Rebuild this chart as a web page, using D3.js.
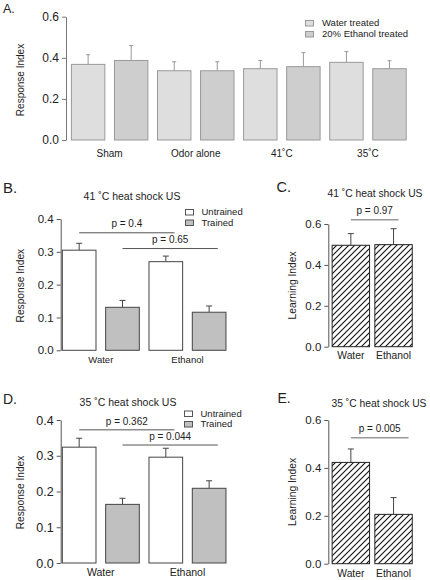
<!DOCTYPE html>
<html><head><meta charset="utf-8">
<script src="https://cdn.jsdelivr.net/npm/d3@7"></script>
<style>
html,body{margin:0;padding:0;background:#fff;}
svg{display:block;font-family:"Liberation Sans",Arial,Helvetica,sans-serif;}
</style></head>
<body>
<svg id="chart" width="430" height="580"></svg>
<script>
// ---------- DATA ----------
// Panel A
const groupsA = ["Sham", "Odor alone", "41˚C", "35˚C"];
const seriesA = ["Water treated", "20% Ethanol treated"];
const waterA = [0.368, 0.337, 0.347, 0.378];
const waterErrA = [0.047, 0.044, 0.040, 0.052];
const ethanolA = [0.387, 0.337, 0.357, 0.347];
const ethanolErrA = [0.073, 0.044, 0.068, 0.039];
const ticksA = [0, 0.2, 0.4, 0.6];

// Panels B / D
const treatments = ["Water", "Ethanol"];
const trainSeries = ["Untrained", "Trained"];
const untrainedB = [0.305, 0.270];
const untrainedErrB = [0.021, 0.017];
const trainedB = [0.131, 0.116];
const trainedErrB = [0.021, 0.019];
const pLabelsB = ["p = 0.4", "p = 0.65"];
const pHeightsB = [0.358, 0.310];

const untrainedD = [0.324, 0.296];
const untrainedErrD = [0.025, 0.025];
const trainedD = [0.164, 0.209];
const trainedErrD = [0.017, 0.021];
const pLabelsD = ["p = 0.362", "p = 0.044"];
const pHeightsD = [0.3725, 0.330];
const ticksBD = [0, 0.1, 0.2, 0.3, 0.4];

// Panels C / E
const learningC = [0.496, 0.499];
const learningErrC = [0.057, 0.078];
const pLabelC = "p = 0.97";
const pHeightC = 0.621;
const learningE = [0.423, 0.206];
const learningErrE = [0.056, 0.070];
const pLabelE = "p = 0.005";
const pHeightE = 0.526;
const ticksCE = [0, 0.2, 0.4, 0.6];

const titleC = "41 ˚C heat shock US";
const titleE = "35 ˚C heat shock US";

// ---------- DRAW ----------
const svg = d3.select("#chart");
const defs = svg.append("defs");
defs.append("pattern").attr("id", "hatch").attr("patternUnits", "userSpaceOnUse")
  .attr("width", 6).attr("height", 6)
  .append("path").attr("d", "M-1,1 l2,-2 M0,6 l6,-6 M5,7 l2,-2")
  .attr("stroke", "#111").attr("stroke-width", 1.1);

const TXT = "#222";

function txt(x, y, s, size, anchor, opts = {}) {
  const t = svg.append("text").attr("x", x).attr("y", y).text(s)
    .attr("font-size", size).attr("fill", opts.fill || TXT)
    .attr("text-anchor", anchor || "start");
  if (opts.rotate) t.attr("transform", `rotate(-90,${x},${y})`);
  return t;
}

function yAxis(y, x, ticks, fontSize, color) {
  const ax = d3.axisLeft(y).tickValues(ticks).tickFormat(d3.format(".1f"))
    .tickSize(4).tickSizeOuter(0).tickPadding(3);
  const g = svg.append("g").attr("transform", `translate(${x},0)`).call(ax);
  g.select(".domain").attr("stroke", color);
  g.selectAll(".tick line").attr("stroke", color);
  g.selectAll(".tick text").attr("font-size", fontSize).attr("fill", TXT)
    .attr("font-family", "Liberation Sans, Arial, sans-serif");
  return g;
}

function errBar(x, yTop, yErr, cap, color) {
  svg.append("line").attr("x1", x).attr("x2", x).attr("y1", yTop).attr("y2", yErr)
    .attr("stroke", color).attr("stroke-width", 1);
  svg.append("line").attr("x1", x - cap).attr("x2", x + cap).attr("y1", yErr).attr("y2", yErr)
    .attr("stroke", color).attr("stroke-width", 1);
}

// ===== Panel A =====
(function () {
  const y = d3.scaleLinear().domain([0, 0.6]).range([140, 16.7]);
  const x0 = d3.scaleBand().domain(groupsA).range([66.6, 411]);
  const x1 = d3.scaleBand().domain(seriesA).range([0, x0.bandwidth()])
    .paddingInner(0.2).paddingOuter(0.1);
  const fills = { "Water treated": "#dedede", "20% Ethanol treated": "#cecece" };
  const vals = [waterA, ethanolA], errs = [waterErrA, ethanolErrA];
  groupsA.forEach((g, i) => {
    seriesA.forEach((s, j) => {
      const bx = x0(g) + x1(s), v = vals[j][i], e = errs[j][i];
      errBar(bx + x1.bandwidth() / 2, y(v), y(v + e), 2, "#999");
      svg.append("rect").attr("x", bx + 0.5).attr("y", y(v))
        .attr("width", x1.bandwidth() - 1).attr("height", y(0) - y(v))
        .attr("fill", fills[s]).attr("stroke", "#9a9a9a").attr("stroke-width", 1);
    });
    txt(x0(g) + x0.bandwidth() / 2, 157, g, 10, "middle");
  });
  yAxis(y, 66, ticksA, 12, "#777");
  txt(24, 80, "Response Index", 10, "middle", { rotate: true });
  txt(3, 13, "A.", 12.5, "start");
  seriesA.forEach((s, j) => {
    svg.append("rect").attr("x", 305.5).attr("y", 20.5 + j * 11).attr("width", 8).attr("height", 5.5)
      .attr("fill", fills[s]).attr("stroke", "#9a9a9a");
    txt(322, 26 + j * 11, s, 9.5, "start");
  });
})();

// ===== Panels B / D =====
function panelBD(opt) {
  const y = d3.scaleLinear().domain([0, 0.4]).range([opt.y0, opt.y1]);
  const x0 = d3.scaleBand().domain(treatments).range([57.5, 230.8]);
  const x1 = d3.scaleBand().domain(trainSeries).range([0, x0.bandwidth()])
    .paddingInner(0.2).paddingOuter(0.1);
  const fills = { "Untrained": "#ffffff", "Trained": "#c0c0c0" };
  const vals = [opt.untr, opt.tr], errs = [opt.untrErr, opt.trErr];
  treatments.forEach((t, i) => {
    trainSeries.forEach((s, j) => {
      const bx = x0(t) + x1(s), v = vals[j][i], e = errs[j][i];
      errBar(bx + x1.bandwidth() / 2, y(v), y(v + e), 3, "#444");
      svg.append("rect").attr("x", bx + 0.5).attr("y", y(v))
        .attr("width", x1.bandwidth() - 1).attr("height", y(0) - y(v))
        .attr("fill", fills[s]).attr("stroke", "#444").attr("stroke-width", 1);
    });
    txt(x0(t) + x0.bandwidth() / 2, opt.xLabY, t, opt.xLabSize, "middle");
  });
  // significance lines: Untrained Water vs Untrained Ethanol, Trained Water vs Trained Ethanol
  trainSeries.forEach((s, j) => {
    const xa = x0("Water") + x1(s) + x1.bandwidth() / 2;
    const xb = x0("Ethanol") + x1(s) + x1.bandwidth() * 0.75;
    const yy = y(opt.pH[j]);
    svg.append("line").attr("x1", xa).attr("x2", xb).attr("y1", yy).attr("y2", yy)
      .attr("stroke", "#555").attr("stroke-width", 1);
    txt((xa + xb) / 2, yy - 5.3, opt.pL[j], 10, "middle");
  });
  yAxis(y, 60.7, ticksBD, opt.tickSize, "#555");
  txt(24, (opt.y0 + opt.y1) / 2 + 1, "Response Index", 10.2, "middle", { rotate: true });
  txt(3, opt.letterY, opt.letter, opt.letterSize, "start");
  txt(opt.titleX, opt.titleY, opt.title, 10.5, "middle");
  trainSeries.forEach((s, j) => {
    svg.append("rect").attr("x", opt.legX + 0.5).attr("y", opt.legY + j * 10.5 + 0.5)
      .attr("width", 8).attr("height", 5.5)
      .attr("fill", fills[s]).attr("stroke", "#555");
    txt(opt.legX + 16.5, opt.legY + 6 + j * 10.5, s, 9.5, "start");
  });
}
panelBD({ y0: 350.3, y1: 219, untr: untrainedB, untrErr: untrainedErrB, tr: trainedB, trErr: trainedErrB,
  pL: pLabelsB, pH: pHeightsB, xLabY: 362.7, xLabSize: 9.5, tickSize: 11.5,
  letter: "B.", letterY: 192.5, letterSize: 15, title: "41 ˚C heat shock US", titleX: 132, titleY: 200,
  legX: 185, legY: 209 });
panelBD({ y0: 563, y1: 420, untr: untrainedD, untrErr: untrainedErrD, tr: trainedD, trErr: trainedErrD,
  pL: pLabelsD, pH: pHeightsD, xLabY: 576, xLabSize: 10.5, tickSize: 12.5,
  letter: "D.", letterY: 404, letterSize: 14, title: "35 ˚C heat shock US", titleX: 128, titleY: 405.7,
  legX: 184, legY: 410.5 });

// ===== Panels C / E =====
function panelCE(opt) {
  const y = d3.scaleLinear().domain([0, 0.6]).range([opt.y0, opt.y1]);
  const x = d3.scaleBand().domain(treatments).range([329.5, 414.9])
    .paddingInner(0.1).paddingOuter(0.05);
  treatments.forEach((t, i) => {
    const v = opt.vals[i], e = opt.errs[i];
    errBar(x(t) + x.bandwidth() / 2, y(v), y(v + e), 3, "#444");
    svg.append("rect").attr("x", x(t) + 0.5).attr("y", y(v))
      .attr("width", x.bandwidth() - 1).attr("height", y(0) - y(v))
      .attr("fill", "url(#hatch)").attr("stroke", "#222").attr("stroke-width", 1);
    txt(x(t) + x.bandwidth() / 2, opt.xLabY, t, 10.3, "middle");
  });
  const xa = x("Water") + x.bandwidth() / 2;
  const xb = x("Ethanol") + x.bandwidth() / 2 + opt.ext;
  const yy = y(opt.pH);
  svg.append("line").attr("x1", xa).attr("x2", xb).attr("y1", yy).attr("y2", yy)
    .attr("stroke", "#999").attr("stroke-width", 1.6);
  txt((xa + xb) / 2, yy - 6, opt.pL, 10, "middle");
  yAxis(y, 328.3, ticksCE, 11.5, "#555");
  txt(296.5, (opt.y0 + opt.y1) / 2, "Learning Index", 10.3, "middle", { rotate: true });
  txt(opt.letterX, opt.letterY, opt.letter, opt.letterSize, "start");
  txt(opt.titleX, opt.titleY, opt.title, 10.3, "middle");
}
panelCE({ y0: 346.7, y1: 224, vals: learningC, errs: learningErrC, pL: pLabelC, pH: pHeightC, ext: 5,
  xLabY: 359.3, letter: "C.", letterX: 276.5, letterY: 192, letterSize: 14.5,
  title: titleC, titleX: 375, titleY: 196.7 });
panelCE({ y0: 563.7, y1: 420, vals: learningE, errs: learningErrE, pL: pLabelE, pH: pHeightE, ext: 15,
  xLabY: 576.7, letter: "E.", letterX: 277.5, letterY: 402.7, letterSize: 14,
  title: titleE, titleX: 379, titleY: 406.7 });
</script>
</body></html>
